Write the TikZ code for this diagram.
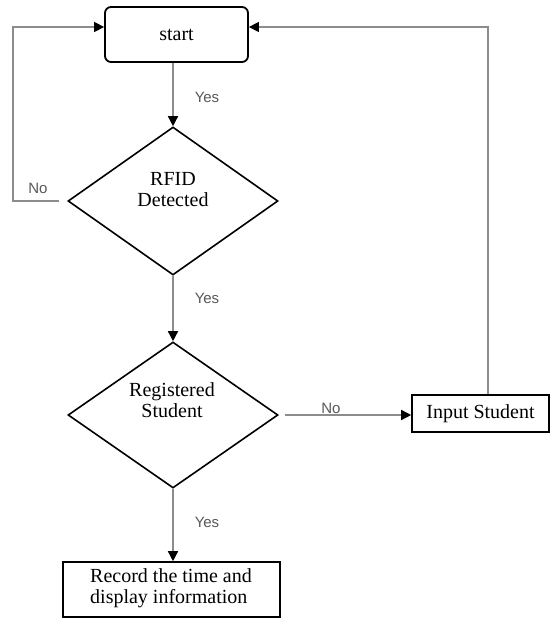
\documentclass[tikz,border=0pt]{standalone}
\usepackage{fontspec}
\setmainfont{Liberation Serif}
\newfontfamily\lblfont{Liberation Sans}
\usetikzlibrary{shapes.geometric,arrows.meta,calc}
\begin{document}
\begin{tikzpicture}[x=1pt,y=-1pt,
  conn/.style={draw=black!45,line width=1.5pt,-{Triangle[length=10pt,width=10pt,color=black]}},
  boxtxt/.style={font=\fontsize{20}{21}\selectfont},
  startbox/.style={draw=black,line width=1.8pt,rounded corners=6pt,minimum width=143pt,minimum height=55pt,inner sep=0pt,boxtxt},
  rectbox/.style={draw=black,line width=1.6pt,inner sep=0pt,boxtxt},
  dia/.style={draw=black,line width=1.6pt,diamond,inner sep=0pt},
  lbl/.style={font=\lblfont\fontsize{15}{17}\selectfont,text=black!65,inner sep=0pt}
]
\useasboundingbox (0,0) rectangle (551,620);
\fill[white] (0,0) rectangle (551,620);

\node[startbox] (start) at (176.5,34.5) {start};
\node[dia,minimum width=210pt,minimum height=148pt] (d1) at (173,201) {};
\node[boxtxt,align=center,inner sep=0pt] (d1t) at (173,190) {RFID\\Detected};
\node[dia,minimum width=210pt,minimum height=146pt] (d2) at (173,415) {};
\node[boxtxt,align=center,inner sep=0pt] (d2t) at (172,400) {Registered\\Student};
\node[rectbox,minimum width=137pt,minimum height=37pt] (input) at (480.5,413.5) {Input Student};
\node[rectbox,minimum width=217pt,minimum height=55pt] (rec) at (171.5,589.5) {};
\node[boxtxt,align=left,anchor=west,inner sep=0pt] (rect) at (90,588) {Record the time and\\display information};

\node[lbl] (y1) at (207,97) {Yes};
\node[lbl] (y2) at (207,298) {Yes};
\node[lbl] (y3) at (207,522) {Yes};
\node[lbl] (n1) at (38,188) {No};
\node[lbl] (n2) at (331,408) {No};

\coordinate (lA) at (13,201);
\coordinate (lB) at (13,27);
\coordinate (rA) at (488,27);

\draw[conn] (d1.north |- start.south) -- (d1.north);
\draw[conn] (d1.south) -- (d2.north);
\draw[conn] (d2.south) -- (d2.south |- rec.north);
\draw[conn] ([xshift=6pt]d2.east) -- (d2.east -| input.west);
\draw[conn] ([xshift=-8pt]d1.west) -- (lA) -- (lB) -- (lB -| start.west);
\draw[conn] (input.north -| rA) -- (rA) -- (rA -| start.east);
\end{tikzpicture}
\end{document}
